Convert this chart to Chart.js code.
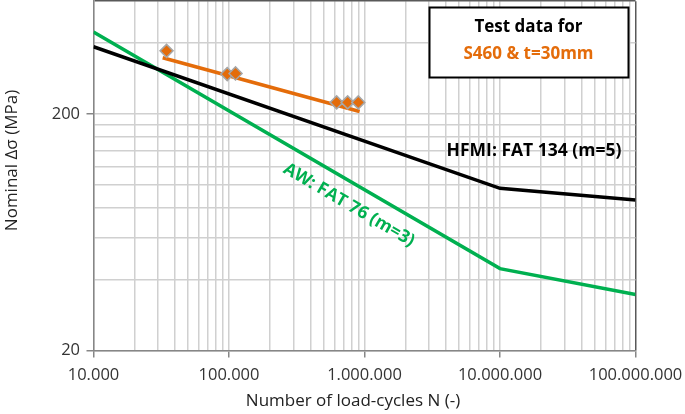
<!DOCTYPE html>
<html>
<head>
<meta charset="utf-8">
<script src="https://cdn.jsdelivr.net/npm/chart.js@4.4.0/dist/chart.umd.min.js"></script>
<style>
  html, body { margin: 0; padding: 0; background: #fff; }
</style>
</head>
<body>
<canvas id="plot" width="685" height="414"></canvas>
<script>
// values
const xMajor = [1e4, 1e5, 1e6, 1e7, 1e8]
const xLabels = ['10.000', '100.000', '1.000.000', '10.000.000', '100.000.000']
const yTicks = [20, 40, 60, 80, 100, 120, 140, 160, 180, 200, 400, 600]
const yMajor = [20, 200]
const yLabels = ['20', '200']

const hfmiN = [1e4, 1e7, 1e8]
const hfmiS = [385, 97, 86.5]
const awN = [1e4, 1e7, 1e8]
const awS = [444, 44.4, 34.5]
const fitN = [32400, 920000]
const fitS = [346, 205]
const testN = [34600, 97000, 111700, 623000, 751000, 900000]
const testS = [370, 295, 297, 224, 224, 224]

// gridline positions: 1..9 inside each decade
let xTicks = []
xMajor.forEach((d, i) => {
    if (i === xMajor.length - 1) { xTicks.push(d); return }
    for (let k = 1; k < 10; k++) xTicks.push(d * k)
})

const pts = (xs, ys) => xs.map((x, i) => ({x: x, y: ys[i]}))

const ORANGE = '#E46C0A'
const GREEN = '#00B050'
const FONT = '"Open Sans", "DejaVu Sans", sans-serif'

const annotations = {
    id: 'annotations',
    afterDatasetsDraw(chart) {
        const c = chart.ctx
        const xs = chart.scales.x, ys = chart.scales.y
        c.save()
        // legend box
        c.fillStyle = '#fff'
        c.fillRect(429.5, 7.5, 199, 70)
        c.strokeStyle = '#000'
        c.lineWidth = 2
        c.strokeRect(429.5, 7.5, 199, 70)
        c.textAlign = 'center'
        c.textBaseline = 'middle'
        c.font = 'bold 17px ' + FONT
        c.fillStyle = '#000'
        c.fillText('Test data for', 528.5, 27)
        c.fillStyle = ORANGE
        c.fillText('S460 & t=30mm', 528.5, 54)

        c.fillStyle = '#000'
        c.font = 'bold 17.5px ' + FONT
        c.fillText('HFMI: FAT 134 (m=5)', 534, 151)

        // AW label along the green line
        const ang = Math.atan2(ys.getPixelForValue(awS[1]) - ys.getPixelForValue(awS[0]),
                               xs.getPixelForValue(awN[1]) - xs.getPixelForValue(awN[0]))
        c.save()
        c.translate(349, 205)
        c.rotate(ang)
        c.fillStyle = GREEN
        c.font = 'bold 17.5px ' + FONT
        c.fillText('AW: FAT 76 (m=3)', 0, 0)
        c.restore()

        // axis titles
        c.fillStyle = '#222'
        c.font = '17px ' + FONT
        c.fillText('Number of load-cycles N (-)', 353, 401)
        c.save()
        c.translate(12, 160.5)
        c.rotate(-Math.PI / 2)
        c.fillText('Nominal \u0394\u03c3 (MPa)', 0, 0)
        c.restore()
        c.restore()
    }
}

const config = {
    type: 'scatter',
    data: {
        datasets: [
            {
                label: 'Test data',
                data: pts(testN, testS),
                pointStyle: 'rectRot',
                pointRadius: 6.5,
                pointHoverRadius: 6.5,
                backgroundColor: ORANGE,
                borderColor: '#a6a6a6',
                borderWidth: 1.5,
                order: 0
            },
            {
                label: 'Fit',
                data: pts(fitN, fitS),
                showLine: true,
                pointRadius: 0,
                borderColor: ORANGE,
                borderWidth: 3.5,
                order: 1
            },
            {
                label: 'HFMI',
                data: pts(hfmiN, hfmiS),
                showLine: true,
                pointRadius: 0,
                borderColor: '#000',
                borderWidth: 3.5,
                order: 2
            },
            {
                label: 'AW',
                data: pts(awN, awS),
                showLine: true,
                pointRadius: 0,
                borderColor: GREEN,
                borderWidth: 3.5,
                order: 3
            }
        ]
    },
    options: {
        responsive: false,
        animation: false,
        layout: { autoPadding: false, padding: { top: 1.2, right: 49.5, left: 0, bottom: 0 } },
        plugins: {
            legend: { display: false },
            tooltip: { enabled: false }
        },
        scales: {
            x: {
                type: 'logarithmic',
                min: 1e4,
                max: 1e8,
                afterBuildTicks: (s) => { s.ticks = xTicks.map(v => ({value: v})) },
                afterFit: (s) => {
                    s.height = 63.5
                    s.paddingLeft = 0
                    s.paddingRight = 0
                },
                ticks: {
                    autoSkip: false,
                    maxRotation: 0,
                    padding: 8,
                    color: '#333',
                    font: { family: FONT, size: 16.5 },
                    callback: (v) => {
                        const i = xMajor.indexOf(v)
                        return i >= 0 ? xLabels[i] : ''
                    }
                },
                grid: {
                    color: (ctx) => ctx.tick && ctx.tick.value === 1e8 ? '#595959' : '#d0d0d0',
                    lineWidth: 1.5,
                    tickLength: 7,
                    tickColor: (ctx) => ctx.tick && xMajor.includes(ctx.tick.value) ? '#868686' : 'rgba(0,0,0,0)'
                },
                border: { color: '#868686', width: 1.5 }
            },
            y: {
                type: 'logarithmic',
                min: 20,
                max: 600,
                afterBuildTicks: (s) => { s.ticks = yTicks.map(v => ({value: v})) },
                afterFit: (s) => {
                    s.width = 93.5
                    s.paddingTop = 0
                    s.paddingBottom = 0
                },
                ticks: {
                    autoSkip: false,
                    padding: 6.5,
                    color: '#333',
                    font: { family: FONT, size: 16.5 },
                    callback: (v) => {
                        const i = yMajor.indexOf(v)
                        return i >= 0 ? yLabels[i] : ''
                    }
                },
                grid: {
                    color: (ctx) => ctx.tick && ctx.tick.value === 600 ? '#595959' : '#d0d0d0',
                    lineWidth: 1.5,
                    tickLength: 7,
                    tickColor: (ctx) => ctx.tick && yMajor.includes(ctx.tick.value) ? '#868686' : 'rgba(0,0,0,0)'
                },
                border: { color: '#868686', width: 1.5 }
            }
        }
    },
    plugins: [annotations]
}

myChart = new Chart(document.getElementById('plot'), config)
</script>
</body>
</html>
